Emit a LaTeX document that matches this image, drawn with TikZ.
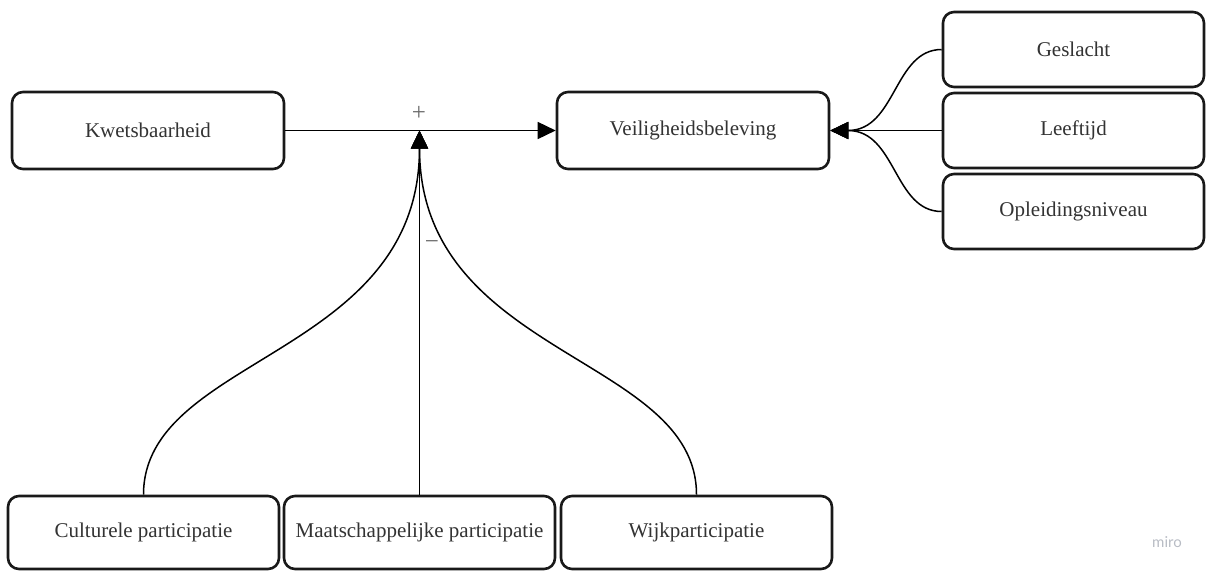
\documentclass[tikz,border=0pt]{standalone}
\usepackage{fontspec}
\setmainfont{Liberation Serif}
\newfontfamily\wmfont{Lato}
\usetikzlibrary{arrows.meta}
\definecolor{txt}{HTML}{333333}
\definecolor{lbl}{HTML}{6A6A6A}
\definecolor{wm}{HTML}{B8BCC4}
\tikzset{
  box/.style={draw=black!90, line width=2.6pt, rounded corners=11pt, fill=white,
    text=txt, font=\fontsize{21}{25}\selectfont, inner sep=0pt},
  conn/.style={draw=black, line width=1.5pt, -{Triangle[length=18pt,width=17pt]}},
  sign/.style={text=lbl, font=\fontsize{25}{28}\selectfont, inner sep=0pt}
}
\begin{document}
\begin{tikzpicture}[x=1pt,y=-1pt]
\useasboundingbox (0,0) rectangle (1206,570);
% nodes
\node[box, minimum width=272pt, minimum height=77pt] (kw) at (148,130.5) {Kwetsbaarheid};
\node[box, minimum width=272pt, minimum height=77pt] (vb) at (693,130.5) {Veiligheidsbeleving};
\node[box, minimum width=261pt, minimum height=75pt] (ge) at (1073.5,49.5) {Geslacht};
\node[box, minimum width=261pt, minimum height=75pt] (le) at (1073.5,130.5) {Leeftijd};
\node[box, minimum width=261pt, minimum height=75pt] (op) at (1073.5,211.5) {Opleidingsniveau};
\node[box, minimum width=271pt, minimum height=73pt] (cu) at (143.5,532.5) {Culturele participatie};
\node[box, minimum width=271pt, minimum height=73pt] (ma) at (419.5,532.5) {Maatschappelijke participatie};
\node[box, minimum width=271pt, minimum height=73pt] (wi) at (696.5,532.5) {Wijkparticipatie};
\coordinate (j) at (419.5,130.5);
% connectors
\draw[conn] (kw.east) -- (vb.west);
\draw[conn] (cu.north) .. controls +(0,-139) and +(0,226.5) .. (j);
\draw[conn] (ma.north) -- (j);
\draw[conn] (wi.north) .. controls +(0,-139) and +(0,226.5) .. (j);
\draw[conn] (ge.west) .. controls +(-48,0) and +(66,0) .. (vb.east);
\draw[conn] (le.west) -- (vb.east);
\draw[conn] (op.west) .. controls +(-48,0) and +(66,0) .. (vb.east);
% labels
\node[sign] (plus) at (419,113) {+};
\node[sign] (minus) at (432,245) {−};
\node[text=wm, font=\wmfont\fontsize{15}{17}\selectfont, inner sep=0pt] (miro) at (1167,542) {miro};
\end{tikzpicture}
\end{document}
